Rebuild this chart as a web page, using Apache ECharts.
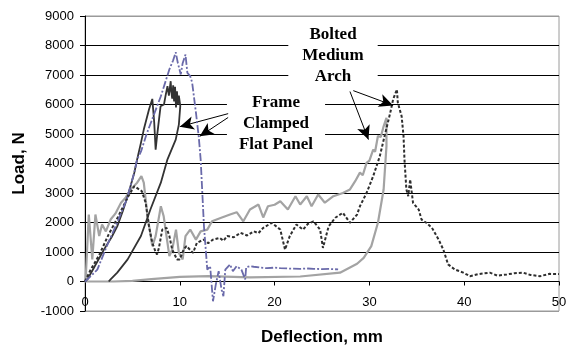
<!DOCTYPE html>
<html>
<head>
<meta charset="utf-8">
<script src="https://cdn.jsdelivr.net/npm/echarts@6/dist/echarts.min.js"></script>
<style>
  html, body { margin: 0; padding: 0; background: #fff; }
  #chart { width: 567px; height: 345px; }
</style>
</head>
<body>
<div id="chart"></div>
<script>
// axis ticks
const xTicks = { min: 0, max: 50, step: 10 }
const yTicks = { min: -1000, max: 9000, step: 1000 }

// Frame Clamped Flat Panel - dark solid (load + unload)
const frameDark = [
  [0, 0], [0.25, 70], [1.0, 500], [2.0, 1080], [2.8, 1500], [3.4, 1870], [4.0, 2400],
  [4.5, 2890], [5.2, 3690], [5.5, 4140], [5.9, 4700], [6.0, 4650], [6.2, 5150],
  [6.75, 5830], [7.1, 6190], [7.3, 5400], [7.45, 4470], [7.6, 4930], [7.97, 5940],
  [8.33, 6000], [8.5, 6300], [8.7, 6620], [8.85, 6300], [9.04, 6790], [9.1, 6450],
  [9.2, 6200], [9.3, 6650], [9.4, 6100], [9.5, 6600], [9.6, 5900], [9.7, 6450],
  [9.8, 6000], [9.9, 6300], [10.05, 5950],
  [9.9, 5320], [9.57, 4810], [8.7, 4140], [8.0, 3350], [6.9, 2440], [5.9, 1540],
  [4.5, 750], [3.4, 300], [2.7, 70], [2.5, 0]
]

// Frame Clamped Flat Panel - blue dashed
const frameBlue = [
  [0, 0], [0.5, 150], [1.3, 400], [2.3, 1200], [3.4, 2000], [4.4, 2780], [5.2, 3700],
  [5.5, 4140], [5.9, 4400], [6.5, 5000], [7.2, 5600], [8.0, 6280], [8.9, 7190],
  [9.3, 7500], [9.57, 7770], [9.8, 7400], [10.1, 7020], [10.3, 7400], [10.6, 7690],
  [10.8, 7070], [11.1, 6960], [11.3, 6750], [11.7, 5730], [12.0, 4900], [12.2, 4140],
  [12.55, 1870], [12.9, 400], [13.2, 520], [13.5, -670], [13.8, -100], [14.1, 350],
  [14.4, -270], [14.6, -500], [14.8, 400], [15.3, 580], [15.6, 350], [16.0, 520],
  [16.5, 400], [16.9, 70], [17.0, 480], [17.4, 520], [17.8, 500], [18.5, 470],
  [19.2, 450], [20.0, 470], [20.6, 450], [21.5, 440], [22.7, 430], [23.5, 440],
  [24.1, 430], [25.0, 420], [25.8, 425], [26.7, 410]
]

// Bolted Medium Arch - light grey solid (load + unload)
const archGrey = [
  [0, 0], [0.07, 70], [0.4, 2270], [0.77, 750], [1.1, 2270], [1.5, 1540], [1.8, 1930],
  [2.2, 1700], [2.7, 2100], [3.2, 2300], [3.8, 2670], [4.3, 2850], [4.8, 3120],
  [5.5, 3350], [5.95, 3570], [6.2, 3350], [6.6, 2210], [7.1, 1200], [7.45, 1540],
  [8.0, 2550], [8.3, 2210], [8.9, 860], [9.2, 1080], [9.6, 1760], [9.9, 970],
  [10.3, 750], [10.6, 1540], [11.1, 1760], [11.7, 1420], [12.2, 1700], [12.9, 1760],
  [13.4, 2040], [14.3, 2150], [15.3, 2270], [16.0, 2350], [16.7, 2040], [17.4, 2440],
  [18.3, 2610], [18.8, 2170], [19.3, 2550], [20.0, 2600], [20.6, 2720], [21.4, 2440],
  [22.2, 2890], [22.7, 2610], [23.4, 2890], [23.9, 2550], [24.6, 2950], [25.3, 2670],
  [26.2, 2890], [27.2, 3000], [27.95, 3120], [28.5, 3400], [29.0, 3690], [29.3, 3600],
  [29.7, 4020], [30.0, 4100], [30.4, 4470], [30.6, 4400], [30.9, 4930], [31.2, 4900],
  [31.5, 5260], [31.8, 5550], [32.0, 5600],
  [31.8, 4590], [31.5, 3120], [30.9, 1990], [30.2, 1200], [29.4, 800], [28.7, 600],
  [26.9, 300], [22.7, 170], [17.4, 140], [13, 180], [10, 160], [7, 80], [5, 20],
  [3, 0], [0, 0]
]

// Bolted Medium Arch - black dotted
const archDotted = [
  [0, 0], [0.6, 400], [1.5, 900], [2.5, 1600], [3.5, 2200], [4.5, 2850], [5.2, 3230],
  [6.0, 3060], [6.4, 2670], [6.75, 1870], [7.1, 1310], [7.45, 1000], [7.6, 920],
  [7.8, 1140], [8.15, 1760], [8.6, 1820], [8.9, 1540], [9.2, 1080], [9.7, 750],
  [10.0, 750], [10.4, 1080], [10.7, 1200], [11.4, 970], [11.8, 1310], [12.5, 1420],
  [13.0, 1300], [13.5, 1420], [14.2, 1480], [14.6, 1380], [15.0, 1540], [15.7, 1500],
  [16.4, 1650], [17.1, 1560], [17.8, 1700], [18.3, 1640], [18.8, 1820], [19.7, 1990],
  [20.6, 1760], [21.1, 1080], [21.6, 1540], [22.3, 1930], [23.0, 1760], [23.5, 1950],
  [24.1, 2040], [24.8, 1760], [25.1, 1140], [25.7, 1870], [26.4, 2160], [27.2, 2330],
  [27.95, 1990], [28.7, 2270], [29.0, 2550], [29.7, 3000], [30.4, 3570], [31.1, 4250],
  [31.6, 4930], [32.2, 5720], [32.5, 6170], [32.9, 6510], [33.0, 6060], [33.4, 5600],
  [33.6, 4930], [33.7, 4140], [33.9, 3120], [34.1, 2890], [34.3, 3460], [34.6, 2670],
  [35.2, 2440], [35.5, 2100], [36.0, 1990], [36.6, 1820], [37.3, 1420], [37.8, 1080],
  [38.3, 580], [39.0, 410], [39.9, 300], [40.6, 180], [41.5, 250], [42.7, 300],
  [43.5, 200], [44.5, 240], [45.3, 280], [46.2, 300], [47.0, 220], [48.0, 180],
  [49.0, 260], [50.0, 250]
]

// annotation arrows [from, to] in data units
const frameArrows = [
  [[15.1, 5690], [10.0, 5250]],
  [[15.1, 5560], [12.1, 4920]]
]
const archArrows = [
  [[28.3, 6470], [32.5, 5970]],
  [[27.95, 6440], [29.9, 4810]]
]

const chart = echarts.init(document.getElementById('chart'), null, { renderer: 'canvas' })

function arrowLine(pairs) {
  return {
    silent: true,
    symbol: ['none', 'arrow'],
    symbolSize: [10, 14],
    label: { show: false },
    lineStyle: { color: '#000', width: 1, type: 'solid' },
    data: pairs.map(p => [{ coord: p[0] }, { coord: p[1] }])
  }
}

const gridColors = []
for (let v = yTicks.min; v <= yTicks.max; v += yTicks.step) {
  gridColors.push(v === yTicks.min || v === yTicks.max ? '#9a9a9a' : '#000')
}

// plot height 295px over 10 steps -> x axis sits one step above the bottom
const plotHeight = 345 - 16 - 34
const zeroOffset = -plotHeight / ((yTicks.max - yTicks.min) / yTicks.step)

chart.setOption({
  animation: false,
  grid: {
    left: 85, right: 8, top: 16, bottom: 34,
    containLabel: false,
    outerBoundsMode: 'none',
    show: true, borderColor: '#9a9a9a', borderWidth: 1
  },
  xAxis: {
    type: 'value',
    min: xTicks.min,
    max: xTicks.max,
    interval: xTicks.step,
    offset: zeroOffset,
    name: 'Deflection, mm',
    nameLocation: 'middle',
    nameGap: 47,
    nameTextStyle: { fontFamily: 'Liberation Sans', fontWeight: 'bold', fontSize: 17, color: '#000' },
    axisLine: { onZero: false, lineStyle: { color: '#000', width: 1 } },
    axisTick: { length: 4, lineStyle: { color: '#000' } },
    axisLabel: { margin: 14, fontFamily: 'Liberation Sans', fontSize: 13, color: '#000', formatter: v => String(v) },
    splitLine: { show: false }
  },
  yAxis: {
    type: 'value',
    min: yTicks.min,
    max: yTicks.max,
    interval: yTicks.step,
    name: 'Load, N',
    nameLocation: 'middle',
    nameGap: 57,
    nameTextStyle: { fontFamily: 'Liberation Sans', fontWeight: 'bold', fontSize: 17, color: '#000' },
    axisLine: { show: true, onZero: false, lineStyle: { color: '#000', width: 1 } },
    axisTick: { show: true, length: 5, lineStyle: { color: '#000' } },
    axisLabel: { margin: 11, fontFamily: 'Liberation Sans', fontSize: 13, color: '#000', formatter: v => String(v) },
    splitLine: { show: true, lineStyle: { color: gridColors, width: 1 } }
  },
  graphic: [
    {
      type: 'text', x: 276, y: 91, z: 1,
      style: {
        text: 'Frame\nClamped\nFlat Panel',
        align: 'center', verticalAlign: 'top',
        font: 'bold 17px "Liberation Serif"',
        lineHeight: 21, fill: '#000',
        backgroundColor: '#fff', padding: [1, 12]
      }
    },
    {
      type: 'text', x: 333, y: 22, z: 1,
      style: {
        text: 'Bolted\nMedium\nArch',
        align: 'center', verticalAlign: 'top',
        font: 'bold 17px "Liberation Serif"',
        lineHeight: 21, fill: '#000',
        backgroundColor: '#fff', padding: [2, 14]
      }
    }
  ],
  series: [
    {
      name: 'Arch grey',
      type: 'line',
      data: archGrey,
      showSymbol: false,
      lineStyle: { color: '#a3a3a3', width: 2.2 },
      z: 2
    },
    {
      name: 'Arch dotted',
      type: 'line',
      data: archDotted,
      showSymbol: false,
      lineStyle: { color: '#2e2e2e', width: 2, type: [3, 2] },
      markLine: arrowLine(archArrows),
      z: 3
    },
    {
      name: 'Frame dark',
      type: 'line',
      data: frameDark,
      showSymbol: false,
      lineStyle: { color: '#333', width: 1.8 },
      z: 4
    },
    {
      name: 'Frame blue',
      type: 'line',
      data: frameBlue,
      showSymbol: false,
      lineStyle: { color: '#6a6aaa', width: 1.8, type: [8, 2, 2, 2] },
      markLine: arrowLine(frameArrows),
      z: 5
    }
  ]
})
</script>
</body>
</html>
